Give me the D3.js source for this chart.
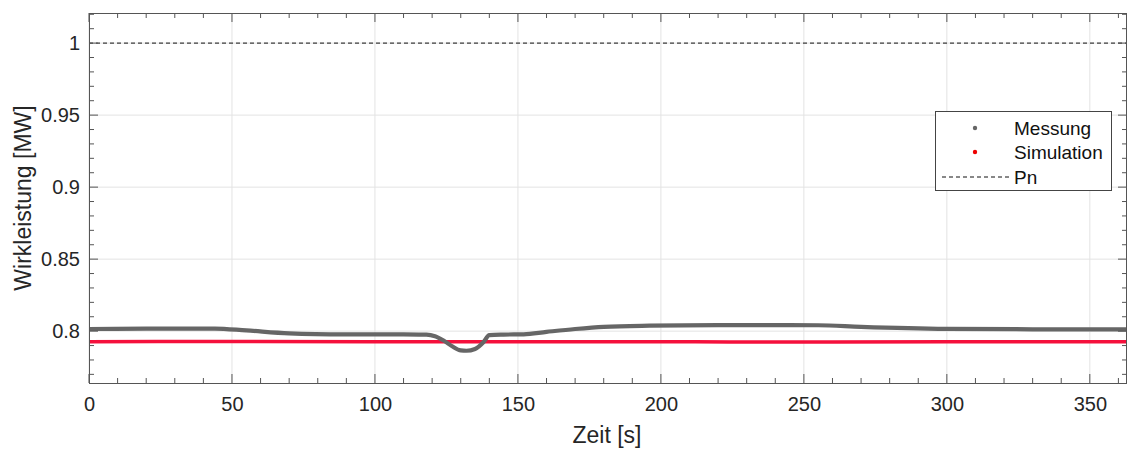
<!DOCTYPE html>
<html><head><meta charset="utf-8">
<script src="https://cdn.jsdelivr.net/npm/d3@7"></script>
<style>body{margin:0;background:#fff}svg{font-family:"Liberation Sans",Arial,sans-serif}</style>
</head><body><svg id="c" width="1129" height="453"></svg>
<script>
// Data
const messTime  = [0, 20, 44, 55, 70, 90, 110, 118, 121, 124, 127, 130, 132, 135, 138, 140, 145, 152, 160, 170, 180, 196, 220, 245, 255, 270, 300, 330, 363];
const messValue = [0.8015, 0.8017, 0.8018, 0.8005, 0.7985, 0.7978, 0.7977, 0.7976, 0.7965, 0.7935, 0.7895, 0.7866, 0.7864, 0.7876, 0.7925, 0.7972, 0.7976, 0.7978, 0.7995, 0.8015, 0.8030, 0.8038, 0.8042, 0.8042, 0.8041, 0.8030, 0.8016, 0.8013, 0.8013];
const simTime   = [0, 50, 100, 150, 200, 224, 260, 300, 363];
const simValue  = [0.7927, 0.7928, 0.7927, 0.7927, 0.7927, 0.7925, 0.7925, 0.7926, 0.7926];
const pnValue   = 1;
const xTicks = [0, 50, 100, 150, 200, 250, 300, 350];
const yTicks = [0.8, 0.85, 0.9, 0.95, 1];
const legendLabels = ["Messung", "Simulation", "Pn"];

const svg = d3.select("#c");
const L = 89, R = 1127, T = 13, B = 383;
const x = d3.scaleLinear().domain([0, 363]).range([L, R]);
const y = d3.scaleLinear().domain([0.764, 1.0209]).range([B, T]);

// grid
const g = svg.append("g");
g.selectAll(".gx").data(xTicks).enter().append("line")
  .attr("x1", d => x(d)).attr("x2", d => x(d)).attr("y1", T).attr("y2", B)
  .attr("stroke", "#e3e3e3").attr("stroke-width", 1);
g.selectAll(".gy").data(yTicks).enter().append("line")
  .attr("x1", L).attr("x2", R).attr("y1", d => y(d)).attr("y2", d => y(d))
  .attr("stroke", "#e3e3e3").attr("stroke-width", 1);

// Pn
svg.append("line").attr("x1", L).attr("x2", R).attr("y1", y(pnValue)).attr("y2", y(pnValue))
  .attr("stroke", "#111").attr("stroke-width", 1).attr("stroke-dasharray", "4,3");

// series
const mess = messTime.map((t, i) => [t, messValue[i]]);
const sim = simTime.map((t, i) => [t, simValue[i]]);
const line = d3.line().x(d => x(d[0])).y(d => y(d[1])).curve(d3.curveMonotoneX);
svg.append("path").datum(sim).attr("d", line).attr("fill", "none")
  .attr("stroke", "#f5103c").attr("stroke-width", 3.5);
svg.append("path").datum(mess).attr("d", line).attr("fill", "none")
  .attr("stroke", "#666").attr("stroke-width", 4.2);

// axes (ticks inside, box)
const axCol = "#555";
const minorX = d3.range(0, 364, 10);
const minorY = d3.range(0.77, 1.021, 0.01);
const ax = svg.append("g").attr("stroke", axCol).attr("stroke-width", 1);
minorX.forEach(v => {
  const len = (v % 50 === 0) ? 9 : 5;
  ax.append("line").attr("x1", x(v)).attr("x2", x(v)).attr("y1", B).attr("y2", B - len);
  ax.append("line").attr("x1", x(v)).attr("x2", x(v)).attr("y1", T).attr("y2", T + len);
});
minorY.forEach(v => {
  const major = Math.abs(v * 100 - Math.round(v * 20) * 5) < 1e-6;
  const len = major ? 9 : 5;
  ax.append("line").attr("x1", L).attr("x2", L + len).attr("y1", y(v)).attr("y2", y(v));
  ax.append("line").attr("x1", R).attr("x2", R - len).attr("y1", y(v)).attr("y2", y(v));
});
svg.append("rect").attr("x", L + 0.5).attr("y", T + 0.5).attr("width", R - L - 1).attr("height", B - T)
  .attr("fill", "none").attr("stroke", axCol).attr("stroke-width", 1);

// tick labels via d3 axis (text only)
const xa = svg.append("g").attr("transform", `translate(0,${B})`)
  .call(d3.axisBottom(x).tickValues(xTicks).tickSize(0).tickPadding(14).tickFormat(d3.format("d")));
const ya = svg.append("g").attr("transform", `translate(${L},0)`)
  .call(d3.axisLeft(y).tickValues(yTicks).tickSize(0).tickPadding(9).tickFormat(d => d === 1 ? "1" : String(d)));
[xa, ya].forEach(a => {
  a.select(".domain").remove();
  a.selectAll("text").attr("font-size", 20).attr("fill", "#262626").attr("font-family", "Liberation Sans, Arial, sans-serif");
});

// axis labels
svg.append("text").attr("x", 607).attr("y", 443).attr("text-anchor", "middle")
  .attr("font-size", 23).attr("fill", "#262626").text("Zeit [s]");
svg.append("text").attr("transform", `translate(31,${(T + B) / 2}) rotate(-90)`).attr("text-anchor", "middle")
  .attr("font-size", 23).attr("fill", "#262626").text("Wirkleistung [MW]");

// legend
const lg = svg.append("g");
lg.append("rect").attr("x", 935.5).attr("y", 111.5).attr("width", 176).attr("height", 79)
  .attr("fill", "#fff").attr("stroke", "#444").attr("stroke-width", 1);
const rows = [128, 152, 177];
lg.append("circle").attr("cx", 975).attr("cy", rows[0]).attr("r", 2.2).attr("fill", "#666");
lg.append("circle").attr("cx", 975).attr("cy", rows[1]).attr("r", 2.2).attr("fill", "#e00");
lg.append("line").attr("x1", 942).attr("x2", 1010).attr("y1", rows[2]).attr("y2", rows[2])
  .attr("stroke", "#111").attr("stroke-width", 1).attr("stroke-dasharray", "4,3");
legendLabels.forEach((t, i) => {
  lg.append("text").attr("x", 1014).attr("y", rows[i]).attr("dy", "0.36em")
    .attr("font-size", 19).attr("fill", "#111").text(t);
});
</script></body></html>
